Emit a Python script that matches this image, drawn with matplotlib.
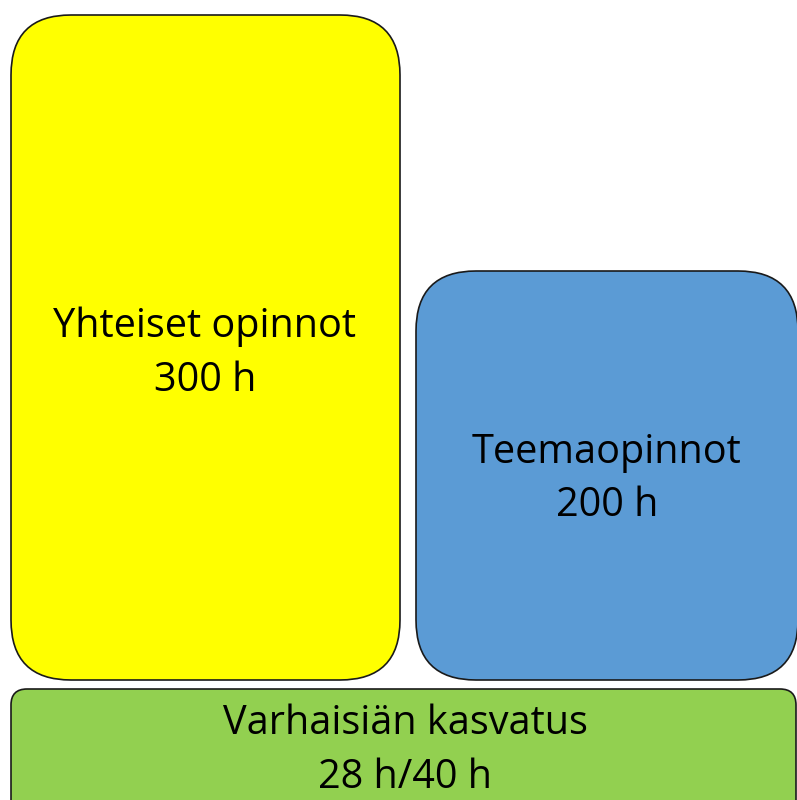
import matplotlib.pyplot as plt
from matplotlib.patches import FancyBboxPatch

# Box labels and hours
labels = ["Yhteiset opinnot", "Teemaopinnot", "Varhaisiän kasvatus"]
hours = ["300 h", "200 h", "28 h/40 h"]
colors = ["#FFFF00", "#5B9BD5", "#92D050"]

plt.rcParams['font.family'] = ['Open Sans', 'DejaVu Sans']

fig = plt.figure(figsize=(7.97, 8.0), dpi=100)
ax = fig.add_axes([0, 0, 1, 1])
ax.set_xlim(0, 797)
ax.set_ylim(800, 0)
ax.axis('off')

# x0, y0, x1, y1, corner radius (pixels)
boxes = [(11, 15, 400, 680, 60),
         (416, 271, 798, 680, 60),
         (11, 689, 796, 830, 16)]
# text line centres
text_pos = [(205, 327, 381), (607, 453, 506), (405, 724, 778)]

for (x0, y0, x1, y1, r), c in zip(boxes, colors):
    p = FancyBboxPatch((x0, y0), x1 - x0, y1 - y0,
                       boxstyle="round,pad=0,rounding_size=%d" % r,
                       facecolor=c, edgecolor="#1a1a1a", linewidth=1.2)
    ax.add_patch(p)

for (x, ya, yb), lab, h in zip(text_pos, labels, hours):
    ax.text(x, ya, lab, ha='center', va='center', fontsize=28.5, color='black')
    ax.text(x, yb, h, ha='center', va='center', fontsize=28.5, color='black')

fig.savefig('out.png', dpi=100)
